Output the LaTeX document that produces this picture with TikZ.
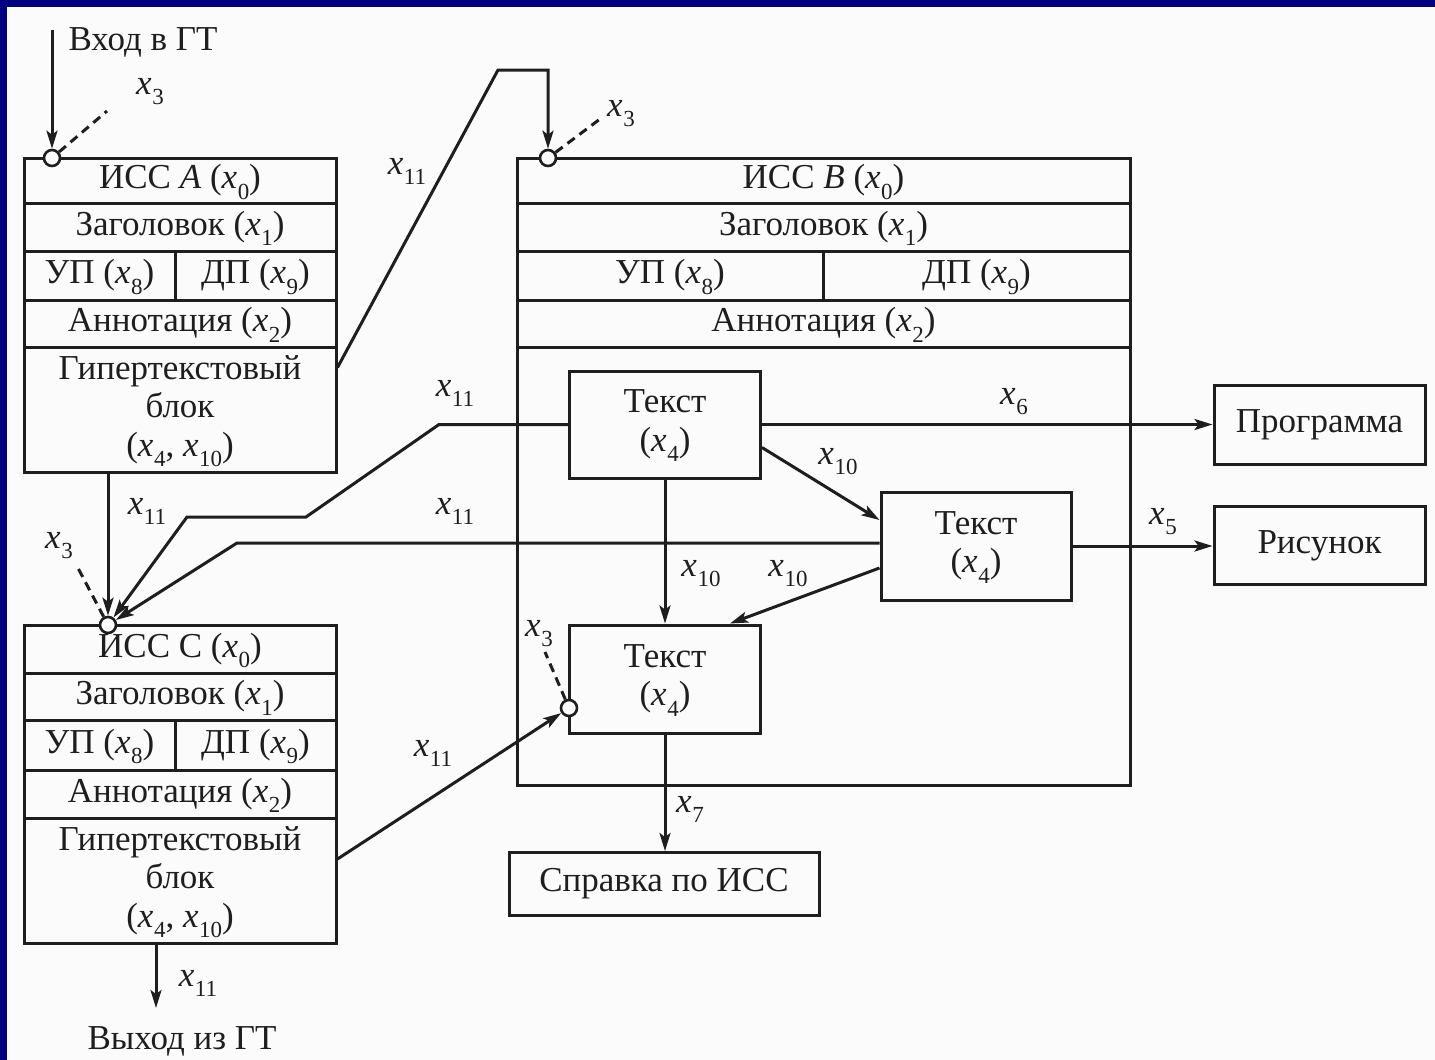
\documentclass[tikz,border=0pt]{standalone}
\usepackage{fontspec}
\setmainfont{Liberation Serif}
\usetikzlibrary{arrows.meta}
\definecolor{bg}{HTML}{FBFBFB}
\definecolor{framecol}{HTML}{000080}
\definecolor{ink}{HTML}{1E1E1E}
\newcommand{\xs}[1]{\textit{x}\kern0.5pt\smash{\raisebox{-0.3em}{\fontsize{23}{23}\selectfont #1}}}
\newcommand{\bigf}{\fontsize{35}{38.5}\selectfont}
\begin{document}
\begin{tikzpicture}[x=1pt,y=-1pt,
  cell/.style={draw=ink,line width=3pt,inner sep=0pt,font=\bigf,text=ink,align=center},
  port/.style={circle,draw=ink,fill=bg,line width=2.6pt,minimum size=16pt,inner sep=0pt},
  lbl/.style={font=\bigf,text=ink,inner sep=0pt,yshift=4pt},
  conn/.style={draw=ink,line width=3pt},
  arr/.style={conn,-{Stealth[length=18pt,width=11pt,inset=4pt]}},
  dsh/.style={draw=ink,line width=3pt,dash pattern=on 9pt off 6pt}]
\useasboundingbox (0,0) rectangle (1435,1060);
\fill[bg] (0,0) rectangle (1435,1060);
\fill[framecol] (0,0) rectangle (1435,7);
\fill[framecol] (0,0) rectangle (7,1060);

% ---- Box A ----
\node[cell,minimum width=312pt,minimum height=45pt] (A0) at (180,180.5) {ИСС \textit{A} (\xs{0})};
\node[cell,minimum width=312pt,minimum height=48pt] (A1) at (180,227) {Заголовок (\xs{1})};
\node[cell,minimum width=151pt,minimum height=49pt] (A2l) at (99.5,275.5) {УП (\xs{8})};
\node[cell,minimum width=161pt,minimum height=49pt] (A2r) at (255.5,275.5) {ДП (\xs{9})};
\node[cell,minimum width=312pt,minimum height=47pt] (A3) at (180,323.5) {Аннотация (\xs{2})};
\node[cell,minimum width=312pt,minimum height=125pt] (A4) at (180,409.5) {Гипертекстовый\\блок\\(\xs{4}, \xs{10})};

% ---- Box C ----
\node[cell,minimum width=312pt,minimum height=48pt] (C0) at (180,649) {ИСС С (\xs{0})};
\node[cell,minimum width=312pt,minimum height=47pt] (C1) at (180,696.5) {Заголовок (\xs{1})};
\node[cell,minimum width=151pt,minimum height=50pt] (C2l) at (99.5,745) {УП (\xs{8})};
\node[cell,minimum width=161pt,minimum height=50pt] (C2r) at (255.5,745) {ДП (\xs{9})};
\node[cell,minimum width=312pt,minimum height=48pt] (C3) at (180,794) {Аннотация (\xs{2})};
\node[cell,minimum width=312pt,minimum height=125pt] (C4) at (180,880.5) {Гипертекстовый\\блок\\(\xs{4}, \xs{10})};

% ---- Box B ----
\node[cell,minimum width=613pt,minimum height=45pt] (B0) at (823.5,180.5) {ИСС \textit{B} (\xs{0})};
\node[cell,minimum width=613pt,minimum height=48pt] (B1) at (823.5,227) {Заголовок (\xs{1})};
\node[cell,minimum width=306pt,minimum height=49pt] (B2l) at (670,275.5) {УП (\xs{8})};
\node[cell,minimum width=307pt,minimum height=49pt] (B2r) at (976.5,275.5) {ДП (\xs{9})};
\node[cell,minimum width=613pt,minimum height=47pt] (B3) at (823.5,323.5) {Аннотация (\xs{2})};
\node[cell,minimum width=613pt,minimum height=438pt] (B4) at (823.5,566) {};

% ---- inner boxes ----
\node[cell,minimum width=191pt,minimum height=107pt] (T1) at (665,424.5) {Текст\\(\xs{4})};
\node[cell,minimum width=190pt,minimum height=108pt] (T2) at (976,546) {Текст\\(\xs{4})};
\node[cell,minimum width=191pt,minimum height=108pt] (T3) at (665,679) {Текст\\(\xs{4})};
\node[cell,minimum width=211pt,minimum height=79pt] (Prog) at (1319.5,424.5) {Программа};
\node[cell,minimum width=211pt,minimum height=78pt] (Pic) at (1319.5,545.5) {Рисунок};
\node[cell,minimum width=310pt,minimum height=63pt] (Spr) at (664,884) {Справка по ИСС};

% ---- ports ----
\node[port] (pA) at (52,158) {};
\node[port] (pB) at (548,158) {};
\node[port] (pC) at (108,625) {};
\node[port] (pT) at (569,708) {};

% ---- texts ----
\node[lbl] (inTxt) at (143,46) {Вход в ГТ};
\node[lbl] (outTxt) at (182,1045) {Выход из ГТ};
\node[lbl] (l3a) at (150,90) {\xs{3}};
\node[lbl] (l3b) at (621,112) {\xs{3}};
\node[lbl] (l3c) at (59,544) {\xs{3}};
\node[lbl] (l3d) at (539,632) {\xs{3}};
\node[lbl] (l11a) at (407,170) {\xs{11}};
\node[lbl] (l11b) at (455,392) {\xs{11}};
\node[lbl] (l11c) at (147,510) {\xs{11}};
\node[lbl] (l11d) at (455,510) {\xs{11}};
\node[lbl] (l11e) at (433,752) {\xs{11}};
\node[lbl] (l11f) at (198,982) {\xs{11}};
\node[lbl] (l6) at (1014,400) {\xs{6}};
\node[lbl] (l10a) at (838,460) {\xs{10}};
\node[lbl] (l10b) at (701,572) {\xs{10}};
\node[lbl] (l10c) at (788,572) {\xs{10}};
\node[lbl] (l5) at (1163,520) {\xs{5}};
\node[lbl] (l7) at (690,808) {\xs{7}};

% ---- coordinates ----
\coordinate (inA) at (52,30);
\coordinate (dA) at (107,111);
\coordinate (dB) at (600,119);
\coordinate (dC) at (78,568);
\coordinate (dT) at (545,652);
\coordinate (k1) at (498,70);
\coordinate (k2) at (548,70);
\coordinate (m1) at (439,424.5);
\coordinate (m2) at (306,517);
\coordinate (m3) at (187,517);
\coordinate (n1) at (237,543);
\coordinate (outC) at (156,1008);

% ---- connectors ----
\draw[arr] (inA) -- (pA);
\draw[dsh] (pA) -- (dA);
\draw[dsh] (pB) -- (dB);
\draw[dsh] (pC) -- (dC);
\draw[dsh] (pT) -- (dT);
\draw[arr] ([yshift=42pt]A4.east) -- (k1) -- (k2) -- (pB);
\draw[arr] (pC |- A4.south) -- (pC);
\draw[arr] (T1.west) -- (m1) -- (m2) -- (m3) -- (pC);
\draw[arr] ([yshift=3pt]T2.west) -- (n1) -- (pC);
\draw[arr] ([yshift=21.5pt]C4.east) -- (pT);
\draw[arr] (outC |- C4.south) -- (outC);
\draw[arr] (T1.east) -- (Prog.west);
\draw[arr] ([yshift=-23pt]T1.east) -- ([yshift=26pt]T2.west);
\draw[arr] (T1.south) -- (T3.north);
\draw[arr] ([yshift=-22pt]T2.west) -- ([xshift=65pt]T3.north);
\draw[arr] (T2.east) -- (T2.east -| Pic.west);
\draw[arr] (T3.south) -- (T3.south |- Spr.north);
\end{tikzpicture}
\end{document}
